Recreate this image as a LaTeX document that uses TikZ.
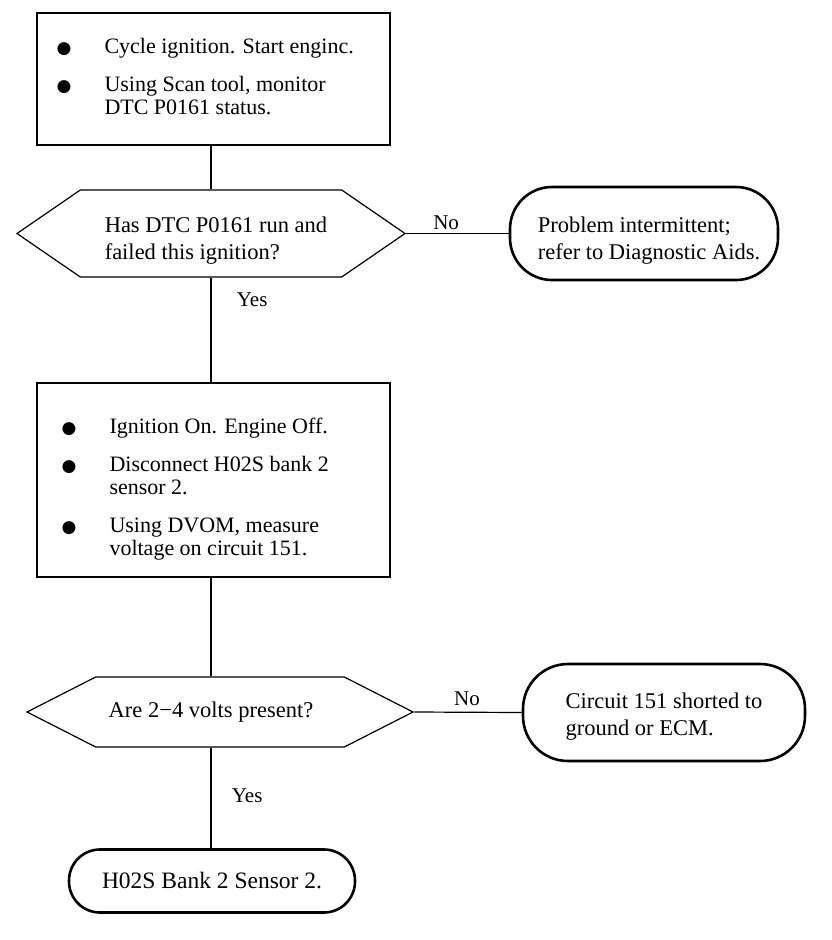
\documentclass[tikz,border=0pt]{standalone}
\usepackage{fontspec}
\setmainfont{Liberation Serif}
\newfontfamily\dotfont{DejaVu Sans}
\usetikzlibrary{shapes.symbols}

\newcommand{\bigdot}{{\dotfont\fontsize{17}{23}\selectfont ●}}

\tikzset{
	stepbox/.style={draw, line width=1.2pt, minimum width=353pt, inner sep=0pt, font=\fontsize{22}{23}\selectfont},
	askbox/.style={signal, signal to=west and east, signal pointer angle=#1, draw, line width=1.2pt, inner sep=0pt, align=left, font=\fontsize{22.5}{27}\selectfont},
	endbox/.style={draw, line width=2.6pt, rounded corners=#1, align=left, inner sep=0pt, font=\fontsize{22.5}{27}\selectfont},
	link/.style={line width=1.2pt},
	lbl/.style={font=\fontsize{21}{24}\selectfont}
}

\begin{document}
\begin{tikzpicture}[x=1pt, y=-1pt]
		\path[use as bounding box] (0,0) rectangle (832,940);
		% checks
		\node[stepbox, minimum height=132pt] (b1) at (213.5,79) {\begin{tabular}{@{}p{48pt}@{}p{266pt}@{}}
			\bigdot & Cycle ignition. Start enginc.\\[15pt]
			\bigdot & Using Scan tool, monitor\\
			& DTC P0161 status.
		\end{tabular}};
		\node[askbox=69, minimum width=388pt, minimum height=87pt] (h1) at (211,233.5) {\rule{0pt}{30pt}\hspace*{10pt}Has DTC P0161 run and\\\hspace*{10pt}failed this ignition?};
		\node[endbox=42pt, minimum width=268pt, minimum height=93pt] (t1) at (644,233.5) {\rule{0pt}{30pt}\hspace*{10pt}Problem intermittent;\\\hspace*{10pt}refer to Diagnostic Aids.};
		\node[stepbox, minimum height=194pt] (b2) at (213.5,480) {\begin{tabular}{@{}p{48pt}@{}p{256pt}@{}}
			\rule{0pt}{36pt}\bigdot & Ignition On. Engine Off.\\[15pt]
			\bigdot & Disconnect H02S bank 2\\
			& sensor 2.\\[15pt]
			\bigdot & Using DVOM, measure\\
			& voltage on circuit 151.
		\end{tabular}};
		\node[askbox=54, minimum width=386pt, minimum height=70pt] (h2) at (220,712) {Are 2−4 volts present?\hspace*{18pt}};
		\node[endbox=45pt, minimum width=282pt, minimum height=97pt] (t2) at (664,712.5) {\rule{0pt}{24pt}Circuit 151 shorted to\\ground or ECM.};
		\node[endbox=31pt, minimum width=286pt, minimum height=63pt] (t3) at (212,881) {\fontsize{23.5}{27}\selectfont H02S Bank 2 Sensor 2.};
		% links
		\draw[link] (h1.north) -- (h1.north |- b1.south);
		\draw[link] (h1.east) -- node[lbl, pos=0.39, above]{No} (t1.west);
		\draw[link] (h1.south) -- node[lbl, pos=0.21, right=22pt]{Yes} (h1.south |- b2.north);
		\draw[link] (h2.north -| h1.south) -- (h1.south |- b2.south);
		\draw[link] (h2.east) -- node[lbl, pos=0.49, above=3pt]{No} (t2.west);
		\draw[link] (h2.south -| h1.south) -- node[lbl, pos=0.48, right=17pt]{Yes} (h1.south |- t3.north);
	\end{tikzpicture}
\end{document}
